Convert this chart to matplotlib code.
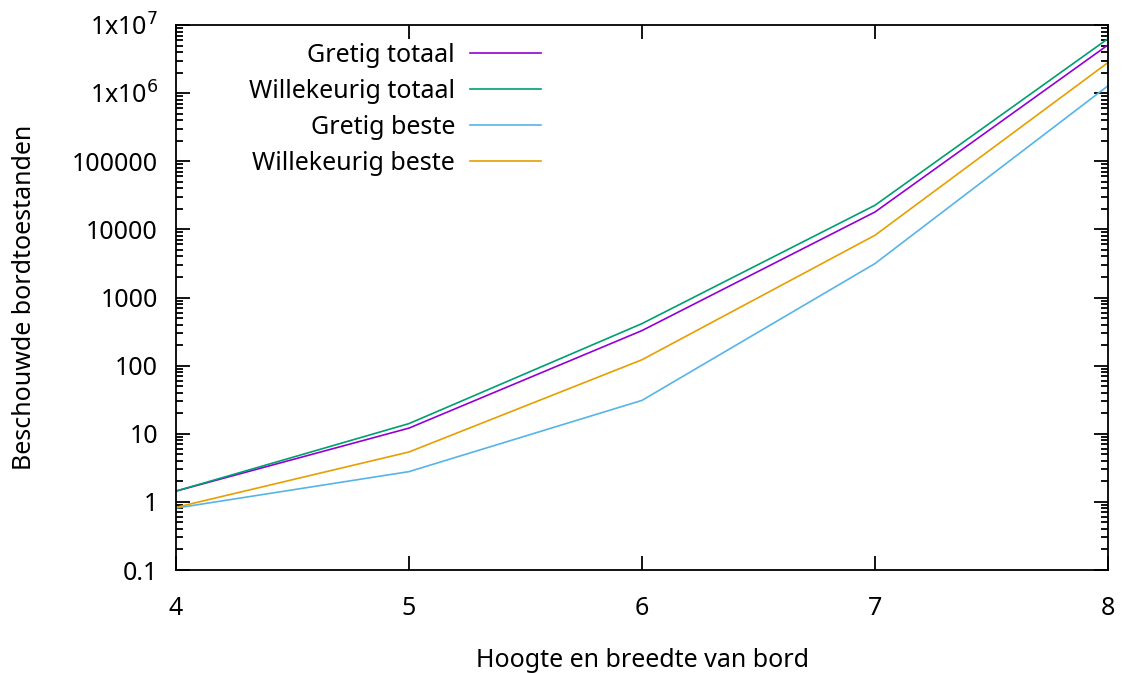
import matplotlib
matplotlib.use('Agg')
import matplotlib.pyplot as plt
from matplotlib.ticker import FixedLocator, FixedFormatter, LogLocator, NullFormatter

plt.rcParams['font.family'] = ['Noto Sans', 'DejaVu Sans']

# bordgrootte en aantal beschouwde bordtoestanden
sizes = [4, 5, 6, 7, 8]
gretig_totaal = [1.44, 12.1, 327, 18000, 5.1e6]
willekeurig_totaal = [1.44, 14.1, 414, 22600, 6.3e6]
gretig_beste = [0.81, 2.78, 30.9, 3150, 1.28e6]
willekeurig_beste = [0.83, 5.4, 122, 8200, 2.81e6]

y_ticks = [0.1, 1, 10, 100, 1000, 10000, 100000, 1e6, 1e7]
y_labels = ['0.1', '1', '10', '100', '1000', '10000', '100000',
            r'1x10$^{6}$', r'1x10$^{7}$']

FS = 18

fig = plt.figure(figsize=(11.23, 6.73), dpi=100)
ax = fig.add_axes([176 / 1123, 103 / 673, 932 / 1123, 545 / 673])

ax.plot(sizes, gretig_totaal, color='#9400d3', lw=1.2, label='Gretig totaal')
ax.plot(sizes, willekeurig_totaal, color='#009e73', lw=1.2, label='Willekeurig totaal')
ax.plot(sizes, gretig_beste, color='#56b4e9', lw=1.2, label='Gretig beste')
ax.plot(sizes, willekeurig_beste, color='#e69f00', lw=1.2, label='Willekeurig beste')

ax.set_yscale('log')
ax.set_xlim(4, 8)
ax.set_ylim(0.1, 1e7)
ax.set_xticks(sizes)
ax.yaxis.set_major_locator(FixedLocator(y_ticks))
ax.yaxis.set_major_formatter(FixedFormatter(y_labels))
ax.yaxis.set_minor_locator(LogLocator(base=10, subs=range(2, 10), numticks=20))
ax.yaxis.set_minor_formatter(NullFormatter())

ax.tick_params(which='both', direction='in', top=True, right=True, width=1.3)
ax.tick_params(which='major', length=10, labelsize=FS)
ax.tick_params(axis='y', which='major', pad=13)
ax.tick_params(axis='x', which='major', pad=19)
ax.tick_params(which='minor', length=5)
for sp in ax.spines.values():
    sp.set_linewidth(1.3)

ax.set_xlabel('Hoogte en breedte van bord', fontsize=FS, labelpad=19)
ax.set_ylabel('Beschouwde bordtoestanden', fontsize=FS, labelpad=25)

leg = ax.legend(loc='upper right', bbox_to_anchor=(0.392, 0.967), frameon=False,
                markerfirst=False, fontsize=FS, handlelength=2.85,
                labelspacing=0.44, borderpad=0, borderaxespad=0, handletextpad=0.6)

fig.savefig('out.png', dpi=100)
